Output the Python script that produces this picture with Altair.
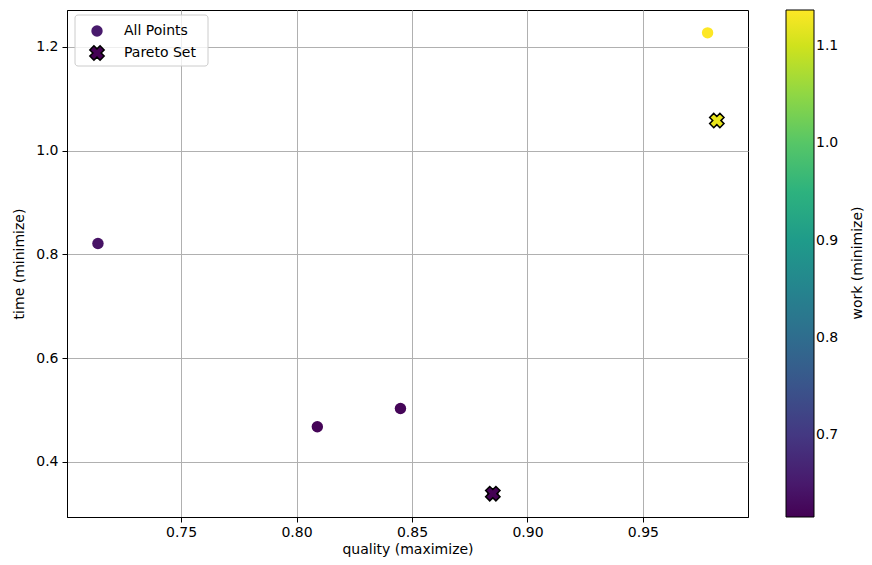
import altair as alt
import pandas as pd

# All evaluated points
quality = [0.714, 0.809, 0.845, 0.885, 0.978, 0.982]
time_ = [0.821, 0.468, 0.503, 0.339, 1.227, 1.058]
work = [0.640, 0.620, 0.622, 0.616, 1.137, 1.120]

# Pareto set
p_quality = [0.885, 0.982]
p_time = [0.339, 1.058]
p_work = [0.616, 1.120]

cbar_ticks = [0.7, 0.8, 0.9, 1.0, 1.1]
x_ticks = [0.75, 0.80, 0.85, 0.90, 0.95]
y_ticks = [0.4, 0.6, 0.8, 1.0, 1.2]

df = pd.DataFrame({"quality": quality, "time": time_, "work": work})
pdf = pd.DataFrame({"quality": p_quality, "time": p_time, "work": p_work})

W, H = 681, 507
FONT = "DejaVu Sans"
FS = 14

xs = alt.Scale(domain=[0.7006, 0.9955], nice=False, zero=False)
ys = alt.Scale(domain=[0.294, 1.271], nice=False, zero=False)
cs = alt.Scale(scheme="viridis", domain=[0.616, 1.137], nice=False, zero=False)

axis_common = dict(grid=True, gridColor="#b0b0b0", gridWidth=1,
                   domainColor="black", tickColor="black", tickSize=5,
                   labelFont=FONT, titleFont=FONT, labelFontSize=FS, titleFontSize=FS,
                   titleFontWeight="normal", labelColor="black", titleColor="black")

X = alt.X("quality:Q", scale=xs, title="quality (maximize)",
          axis=alt.Axis(values=x_ticks, format=".2f", titlePadding=3, labelPadding=3,
                        **axis_common))
Y = alt.Y("time:Q", scale=ys, title="time (minimize)",
          axis=alt.Axis(values=y_ticks, format=".1f", titlePadding=9, labelPadding=4,
                        **axis_common))

points = alt.Chart(df).mark_point(filled=True, shape="circle", size=130, opacity=1).encode(
    x=X, y=Y,
    color=alt.Color("work:Q", scale=cs, title=None,
                    legend=alt.Legend(orient="none", legendX=719, legendY=0,
                                      direction="vertical", gradientLength=H,
                                      gradientThickness=28, values=cbar_ticks,
                                      format=".1f",
                                      labelFontSize=FS, labelFont=FONT, labelColor="black",
                                      gradientStrokeColor="black", gradientStrokeWidth=1))
)

pareto = alt.Chart(pdf).mark_point(filled=True, shape="cross", angle=45, size=210,
                                   stroke="black", strokeWidth=1.5, opacity=1).encode(
    x=X, y=Y,
    fill=alt.Fill("work:Q", scale=cs, legend=None),
)

one = pd.DataFrame({"a": [0]})

cbar_title = alt.Chart(one).mark_text(
    angle=270, align="center", baseline="middle", fontSize=FS, font=FONT, color="black"
).encode(x=alt.value(791), y=alt.value(253), text=alt.value("work (minimize)"))

# legend box
box = alt.Chart(one).mark_rect(
    fill="white", fillOpacity=0.8, stroke="#cccccc", strokeWidth=1, cornerRadius=3
).encode(x=alt.value(8), x2=alt.value(141), y=alt.value(5), y2=alt.value(56))

leg_c = alt.Chart(one).mark_point(
    filled=True, shape="circle", size=130, color="#481a6c", opacity=1
).encode(x=alt.value(30), y=alt.value(21))

leg_x = alt.Chart(one).mark_point(
    filled=True, shape="cross", angle=45, size=210, fill="#440154",
    stroke="black", strokeWidth=1.5, opacity=1
).encode(x=alt.value(30), y=alt.value(43))

leg_t1 = alt.Chart(one).mark_text(
    align="left", baseline="middle", fontSize=FS, font=FONT, color="black"
).encode(x=alt.value(57), y=alt.value(21), text=alt.value("All Points"))

leg_t2 = alt.Chart(one).mark_text(
    align="left", baseline="middle", fontSize=FS, font=FONT, color="black"
).encode(x=alt.value(57), y=alt.value(43), text=alt.value("Pareto Set"))

chart = alt.layer(points, pareto, box, leg_c, leg_x, leg_t1, leg_t2, cbar_title).properties(
    width=W, height=H,
    autosize=alt.AutoSizeParams(type="none"),
    padding={"left": 59, "top": 2, "right": 116, "bottom": 40},
).configure_view(stroke="black", strokeWidth=1)

chart.save("out.html", embed_options={"renderer": "svg", "actions": False})
